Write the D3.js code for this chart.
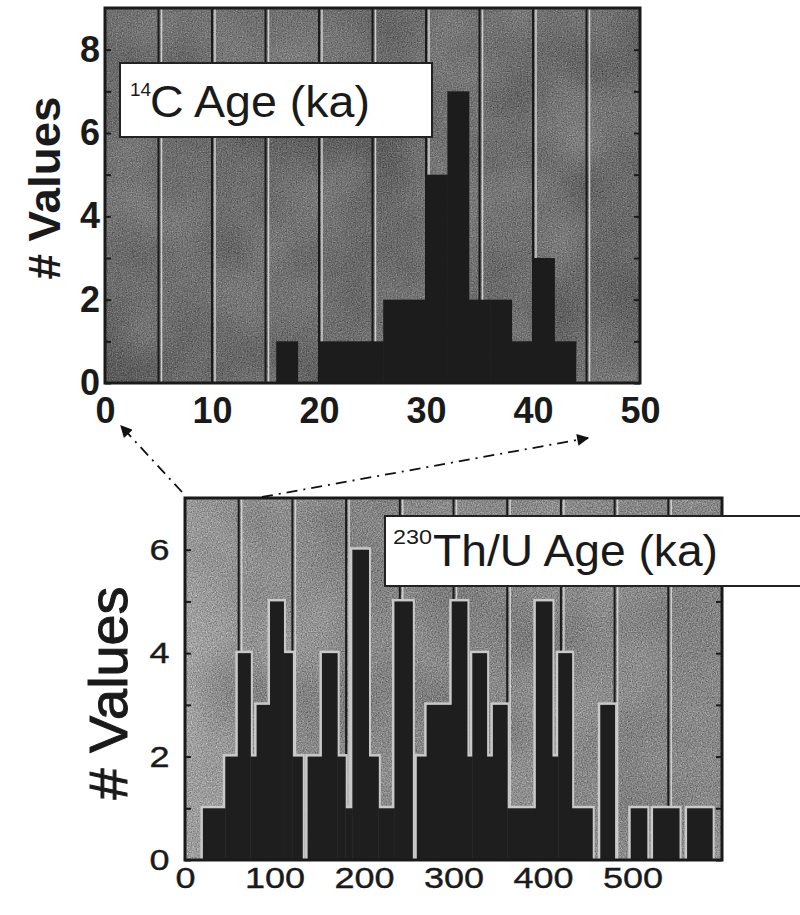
<!DOCTYPE html>
<html>
<head>
<meta charset="utf-8">
<script src="https://cdn.jsdelivr.net/npm/d3@7"></script>
<style>
  body { margin: 0; background: #fff; }
  text { font-family: 'Liberation Sans', Arial, sans-serif; fill: #1a1a1a; }
</style>
</head>
<body>
<script>
// 14C ages, 2 ka bins
const c14BinStarts = [16, 18, 20, 22, 24, 26, 28, 30, 32, 34, 36, 38, 40, 42];
const c14Counts    = [ 1,  0,  1,  1,  1,  2,  2,  5,  7,  2,  2,  1,  3,  1];
const c14BinWidth = 2;
const c14XTicks = [0, 10, 20, 30, 40, 50];
const c14YTicks = [0, 2, 4, 6, 8];
const c14YMarks = [0, 1, 2, 3, 4, 5, 6, 7, 8];
const c14Grid = [5, 10, 15, 20, 25, 30, 35, 40, 45];

// 230Th/U ages, bin edges
const thEdges = [20, 45, 59, 73, 80, 95, 110, 120, 131, 137, 153, 170, 179, 187, 205, 216, 234, 254, 259, 270,
                 298, 315, 321, 337, 344, 360, 392, 410, 417, 432, 455, 464, 480, 498, 516, 523, 552, 561, 589];
const thCounts = [1, 2, 4, 2, 3, 5, 4, 2, 0, 2, 4, 2, 1, 6, 2, 1, 5, 0, 2, 3,
                  5, 2, 4, 2, 3, 1, 5, 2, 4, 1, 0, 3, 0, 1, 0, 1, 0, 1];
const thXTicks = [0, 100, 200, 300, 400, 500];
const thYTicks = [0, 2, 4, 6];
const thYMarks = [0, 1, 2, 3, 4, 5, 6];
const thGrid = [60, 120, 180, 240, 300, 360, 420, 480, 540];

const svg = d3.select('body').append('svg')
  .attr('width', 800)
  .attr('height', 915);
const defs = svg.append('defs');

// scanned-paper grain: grey noise with a given mean level
const addNoise = (id, freq, octaves, mean, gain, alpha, seed) => {
  const f = defs.append('filter').attr('id', id)
    .attr('x', 0).attr('y', 0).attr('width', 1).attr('height', 1)
    .attr('color-interpolation-filters', 'sRGB');
  f.append('feTurbulence')
    .attr('type', 'fractalNoise')
    .attr('baseFrequency', freq)
    .attr('numOctaves', octaves)
    .attr('seed', seed);
  const k = gain / 3;
  const off = mean - gain * 0.5;
  const row = `${k} ${k} ${k} 0 ${off}`;
  f.append('feColorMatrix')
    .attr('type', 'matrix')
    .attr('values', `${row}  ${row}  ${row}  0 0 0 0 ${alpha}`);
};
addNoise('grain-c14', 0.8, 2, 0.43, 1.6, 0.4, 3);
addNoise('mottle-c14', 0.012, 2, 0.43, 2, 0.3, 9);
addNoise('grain-th', 0.8, 2, 0.54, 1.8, 0.45, 5);
addNoise('mottle-th', 0.012, 2, 0.5, 2, 0.25, 11);

const grad = defs.append('linearGradient').attr('id', 'thBg');
[[0, '#c4c4c4'], [0.07, '#adadad'], [0.14, '#8e8e8e'], [0.5, '#848484'], [1, '#8a8a8a']].forEach(([o, c]) =>
  grad.append('stop').attr('offset', o).attr('stop-color', c));

defs.append('marker')
  .attr('id', 'arrow')
  .attr('viewBox', '0 0 10 10')
  .attr('refX', 9).attr('refY', 5)
  .attr('markerWidth', 14).attr('markerHeight', 12)
  .attr('markerUnits', 'userSpaceOnUse')
  .attr('orient', 'auto')
  .append('path')
  .attr('d', 'M0,0 L10,5 L0,10 Z')
  .attr('fill', '#111');

const drawPanel = (id, box, xDomain, yDomain, bg, grid) => {
  const x = d3.scaleLinear().domain(xDomain).range([box.left, box.right]);
  const y = d3.scaleLinear().domain(yDomain).range([box.bottom, box.top]);
  const w = box.right - box.left;
  const h = box.bottom - box.top;

  defs.append('clipPath').attr('id', `clip-${id}`)
    .append('rect')
    .attr('x', box.left).attr('y', box.top)
    .attr('width', w).attr('height', h);

  const g = svg.append('g').attr('clip-path', `url(#clip-${id})`);
  g.append('rect')
    .attr('x', box.left).attr('y', box.top)
    .attr('width', w).attr('height', h)
    .attr('fill', bg);
  [`mottle-${id}`, `grain-${id}`].forEach(f =>
    g.append('rect')
      .attr('x', box.left).attr('y', box.top)
      .attr('width', w).attr('height', h)
      .attr('filter', `url(#${f})`));

  // grid: dark line with a light edge next to it
  g.selectAll('.grid-light').data(grid).enter().append('line')
    .attr('x1', d => x(d) + 3).attr('x2', d => x(d) + 3)
    .attr('y1', box.top).attr('y2', box.bottom)
    .attr('stroke', '#cfcfcf').attr('stroke-width', 1.5);
  g.selectAll('.grid-dark').data(grid).enter().append('line')
    .attr('x1', d => x(d)).attr('x2', d => x(d))
    .attr('y1', box.top).attr('y2', box.bottom)
    .attr('stroke', '#1a1a1a').attr('stroke-width', 2);

  return { x, y, g, box };
};

const drawFrame = ({ box }) => {
  svg.append('rect')
    .attr('x', box.left).attr('y', box.top)
    .attr('width', box.right - box.left).attr('height', box.bottom - box.top)
    .attr('fill', 'none')
    .attr('stroke', '#1a1a1a')
    .attr('stroke-width', 3);
};

// ---------- upper panel: 14C ----------
const upper = drawPanel('c14', { left: 105, right: 640, top: 8, bottom: 383 }, [0, 50], [0, 9], '#6e6e6e', c14Grid);
const c14Bins = c14Counts.map((n, i) => ({ x0: c14BinStarts[i], x1: c14BinStarts[i] + c14BinWidth, n }));

upper.g.selectAll('.bar').data(c14Bins.filter(d => d.n > 0)).enter().append('rect')
  .attr('x', d => upper.x(d.x0))
  .attr('y', d => upper.y(d.n))
  .attr('width', d => upper.x(d.x1) - upper.x(d.x0) + 0.5)
  .attr('height', d => upper.y(0) - upper.y(d.n))
  .attr('fill', '#1c1c1c');
drawFrame(upper);

const upX = svg.append('g')
  .attr('transform', `translate(0, ${upper.box.bottom})`)
  .call(d3.axisBottom(upper.x).tickValues(c14XTicks).tickSize(0).tickPadding(14));
const upY = svg.append('g')
  .attr('transform', `translate(${upper.box.left}, 0)`)
  .call(d3.axisLeft(upper.y).tickValues(c14YMarks).tickSize(-6).tickPadding(5)
    .tickFormat(d => c14YTicks.includes(d) ? d : ''));
const upR = svg.append('g')
  .attr('transform', `translate(${upper.box.right}, 0)`)
  .call(d3.axisRight(upper.y).tickValues(c14YMarks).tickSize(-6).tickFormat(''));
[upX, upY].forEach(a => a.selectAll('text')
  .attr('font-size', 36).attr('font-weight', 'bold').attr('fill', '#1a1a1a'));
[upX, upY, upR].forEach(a => {
  a.select('.domain').remove();
  a.selectAll('line').attr('stroke', '#1a1a1a').attr('stroke-width', 2);
});

svg.append('text')
  .attr('transform', 'translate(60, 188) rotate(-90)')
  .attr('text-anchor', 'middle')
  .attr('font-size', 44)
  .attr('font-weight', 'bold')
  .attr('textLength', 183)
  .attr('lengthAdjust', 'spacingAndGlyphs')
  .text('# Values');

svg.append('rect')
  .attr('x', 120).attr('y', 63)
  .attr('width', 312).attr('height', 74)
  .attr('fill', '#fff')
  .attr('stroke', '#222').attr('stroke-width', 2);
svg.append('text')
  .attr('x', 130).attr('y', 96)
  .attr('font-size', 19)
  .text('14');
svg.append('text')
  .attr('x', 150).attr('y', 117)
  .attr('font-size', 44)
  .attr('textLength', 220)
  .attr('lengthAdjust', 'spacingAndGlyphs')
  .text('C Age (ka)');

// ---------- lower panel: 230Th/U ----------
const lower = drawPanel('th', { left: 185, right: 722, top: 498, bottom: 860 }, [0, 600], [0, 7], 'url(#thBg)', thGrid);
const thBins = thCounts.map((n, i) => ({ x0: thEdges[i], x1: thEdges[i + 1], n })).filter(d => d.n > 0);

// light halo round the bars, as in the print
lower.g.selectAll('.halo').data(thBins).enter().append('rect')
  .attr('x', d => lower.x(d.x0))
  .attr('y', d => lower.y(d.n))
  .attr('width', d => lower.x(d.x1) - lower.x(d.x0))
  .attr('height', d => lower.y(0) - lower.y(d.n) + 10)
  .attr('fill', '#c9c9c9')
  .attr('stroke', '#c9c9c9')
  .attr('stroke-width', 5);
lower.g.selectAll('.bar').data(thBins).enter().append('rect')
  .attr('x', d => lower.x(d.x0))
  .attr('y', d => lower.y(d.n))
  .attr('width', d => lower.x(d.x1) - lower.x(d.x0) + 0.5)
  .attr('height', d => lower.y(0) - lower.y(d.n))
  .attr('fill', '#1e1e1e');
drawFrame(lower);

const loX = svg.append('g')
  .attr('transform', `translate(0, ${lower.box.bottom})`)
  .call(d3.axisBottom(lower.x).tickValues(thXTicks).tickSize(0).tickPadding(7));
const loY = svg.append('g')
  .attr('transform', `translate(${lower.box.left}, 0)`)
  .call(d3.axisLeft(lower.y).tickValues(thYMarks).tickSize(-6).tickPadding(13)
    .tickFormat(d => thYTicks.includes(d) ? d : ''));
const loR = svg.append('g')
  .attr('transform', `translate(${lower.box.right}, 0)`)
  .call(d3.axisRight(lower.y).tickValues(thYMarks).tickSize(-6).tickFormat(''));
[loX, loY].forEach(a => a.selectAll('text')
  .attr('font-size', 30)
  .attr('fill', '#1a1a1a')
  .attr('stroke', '#1a1a1a')
  .attr('stroke-width', 0.4)
  .attr('transform', 'scale(1.2, 1)'));
[loX, loY, loR].forEach(a => {
  a.select('.domain').remove();
  a.selectAll('line').attr('stroke', '#1a1a1a').attr('stroke-width', 2);
});

svg.append('text')
  .attr('transform', 'translate(127, 693) rotate(-90)')
  .attr('text-anchor', 'middle')
  .attr('font-size', 54)
  .attr('stroke', '#1a1a1a')
  .attr('stroke-width', 1)
  .attr('textLength', 213)
  .attr('lengthAdjust', 'spacingAndGlyphs')
  .text('# Values');

svg.append('rect')
  .attr('x', 385).attr('y', 516)
  .attr('width', 440).attr('height', 70)
  .attr('fill', '#fff')
  .attr('stroke', '#222').attr('stroke-width', 2);
svg.append('text')
  .attr('x', 393).attr('y', 544)
  .attr('font-size', 21)
  .attr('textLength', 39)
  .attr('lengthAdjust', 'spacingAndGlyphs')
  .text('230');
svg.append('text')
  .attr('x', 433).attr('y', 566)
  .attr('font-size', 45)
  .attr('textLength', 285)
  .attr('lengthAdjust', 'spacingAndGlyphs')
  .text('Th/U Age (ka)');

// dash-dot pointers from the lower panel to the upper axis
[[182, 492, 121, 426], [262, 497, 588, 438]].forEach(([x1, y1, x2, y2]) =>
  svg.append('line')
    .attr('x1', x1).attr('y1', y1)
    .attr('x2', x2).attr('y2', y2)
    .attr('stroke', '#111')
    .attr('stroke-width', 1.8)
    .attr('stroke-dasharray', '11,6,2,6')
    .attr('marker-end', 'url(#arrow)'));
</script>
</body>
</html>
